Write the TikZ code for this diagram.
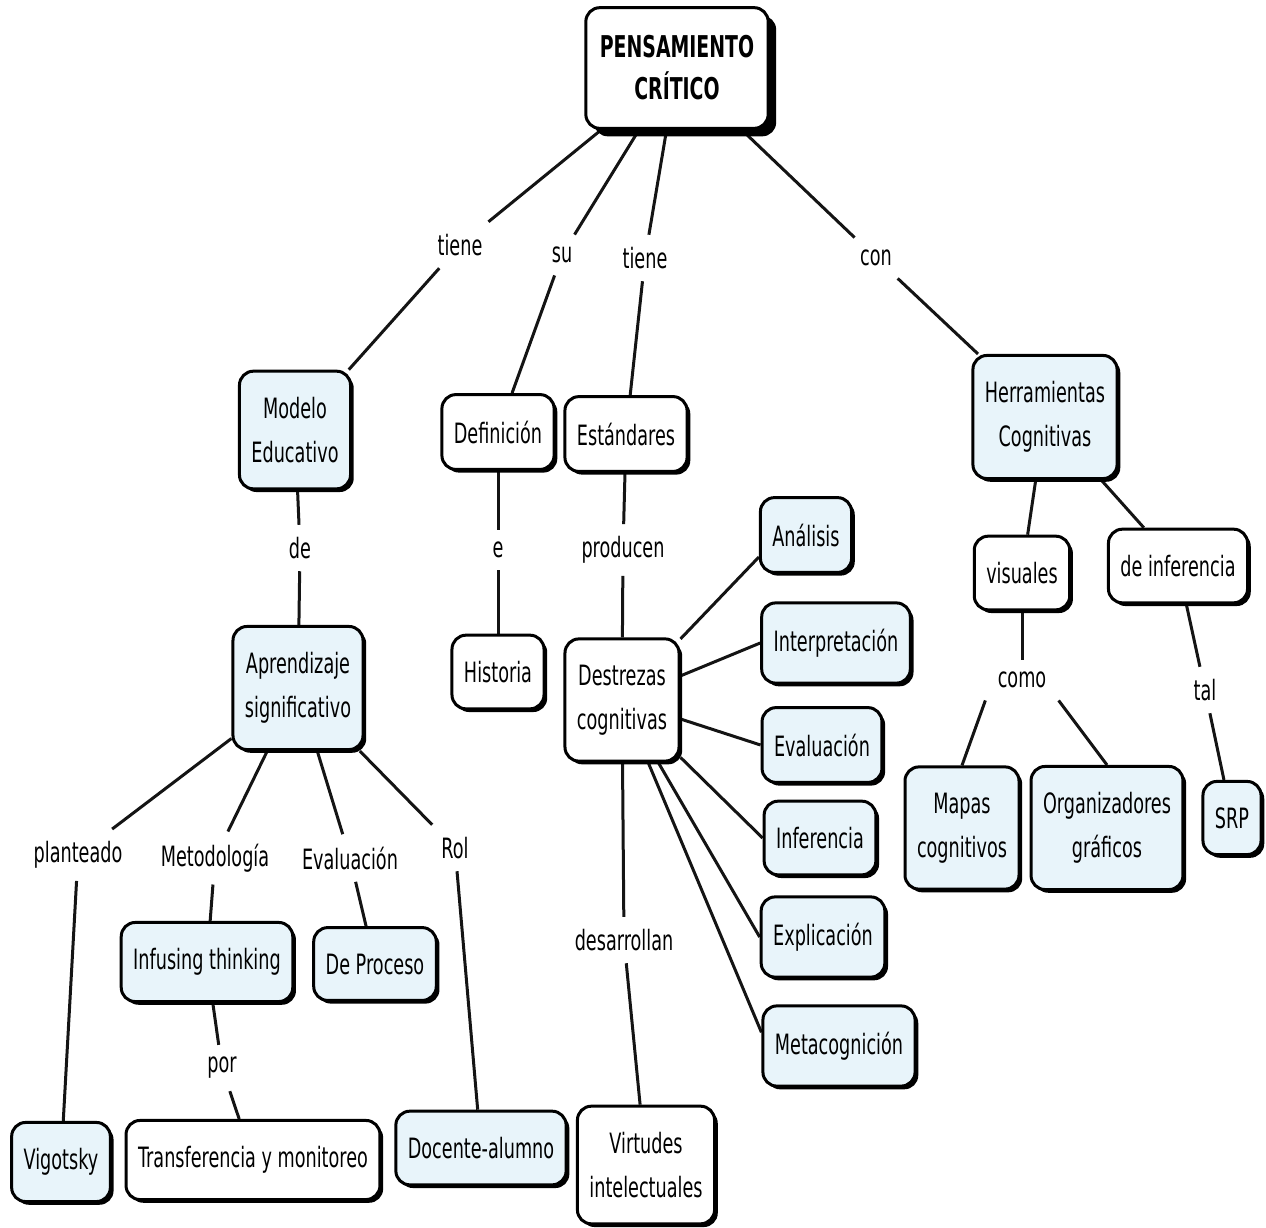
\documentclass[tikz,border=0pt]{standalone}
\usepackage{fontspec}
\setmainfont{DejaVu Sans}[FakeStretch=0.63]
\usetikzlibrary{shadows, backgrounds}
\definecolor{cmapblue}{RGB}{232,244,250}
\definecolor{cmapline}{RGB}{20,20,20}

\begin{document}
\begin{tikzpicture}[x=0.5pt, y=-0.5pt,
  concept/.style={rectangle, draw=black, line width=1.5pt, rounded corners=7pt, fill=white,
    align=center, inner xsep=6pt, inner ysep=13pt, font=\fontsize{14}{22}\selectfont,
    drop shadow={fill=black, opacity=1, shadow xshift=1.6pt, shadow yshift=-1.6pt}},
  bluebox/.style={concept, fill=cmapblue},
  linkword/.style={inner sep=6pt, font=\fontsize{14}{22}\selectfont},
  link/.style={line width=1.5pt, draw=cmapline}]
\useasboundingbox (0,0) rectangle (1266,1228);

% root
\node[concept, font=\bfseries\fontsize{15}{21}\selectfont, inner xsep=7pt, inner ysep=14pt,
  drop shadow={fill=black, opacity=1, shadow xshift=4pt, shadow yshift=-4pt}] (root) at (677,68) {PENSAMIENTO\\CRÍTICO};

% first level
\node[bluebox] (modelo) at (295,430) {Modelo\\Educativo};
\node[concept] (definicion) at (498,432) {Definición};
\node[concept] (estandares) at (626,434) {Estándares};
\node[bluebox] (herram) at (1045,417) {Herramientas\\Cognitivas};

\node[linkword] (tiene1) at (460,245) {tiene};
\node[linkword] (su) at (562,255) {su};
\node[linkword] (tiene2) at (645,258) {tiene};
\node[linkword] (con) at (876,258) {con};

% second level
\node[bluebox] (aprend) at (298,688) {Aprendizaje\\significativo};
\node[concept] (historia) at (498,672) {Historia};
\node[concept] (destrezas) at (622,700) {Destrezas\\cognitivas};
\node[concept] (visuales) at (1022,573) {visuales};
\node[concept] (deinfer) at (1178,566) {de inferencia};

\node[linkword] (de) at (300,548) {de};
\node[linkword] (e) at (498,550) {e};
\node[linkword] (producen) at (623,550) {producen};
\node[linkword] (como) at (1022,680) {como};
\node[linkword] (tal) at (1205,690) {tal};

% destrezas
\node[bluebox] (analisis) at (806,535) {Análisis};
\node[bluebox] (interp) at (836,643) {Interpretación};
\node[bluebox] (evalua) at (822,745) {Evaluación};
\node[bluebox] (infer) at (820,838) {Inferencia};
\node[bluebox] (explica) at (823,937) {Explicación};
\node[bluebox] (metacog) at (839,1046) {Metacognición};

% herramientas
\node[bluebox] (mapas) at (962,828) {Mapas\\cognitivos};
\node[bluebox] (orggraf) at (1107,828) {Organizadores\\gráficos};
\node[bluebox] (srp) at (1232,818) {SRP};

% aprendizaje
\node[linkword] (plant) at (78,855) {planteado};
\node[linkword] (metod) at (215,858) {Metodología};
\node[linkword] (evallk) at (350,858) {Evaluación};
\node[linkword] (rol) at (455,848) {Rol};
\node[bluebox] (infusing) at (207,962) {Infusing thinking};
\node[bluebox] (proceso) at (375,964) {De Proceso};
\node[linkword] (por) at (222,1068) {por};
\node[linkword] (desarr) at (624,940) {desarrollan};

% bottom row
\node[bluebox] (vigotsky) at (61,1162) {Vigotsky};
\node[concept] (transf) at (253,1160) {Transferencia y monitoreo};
\node[bluebox] (docente) at (481,1148) {Docente-alumno};
\node[concept] (virtudes) at (646,1165) {Virtudes\\intelectuales};

% connections
\begin{pgfonlayer}{background}
\draw[link] (root) -- (tiene1);   \draw[link] (tiene1) -- (modelo);
\draw[link] (root) -- (su);       \draw[link] (su) -- (definicion);
\draw[link] (root) -- (tiene2);   \draw[link] (tiene2) -- (estandares);
\draw[link] (root) -- (con);      \draw[link] (con) -- (herram);
\draw[link] (modelo) -- (de);     \draw[link] (de) -- (aprend);
\draw[link] (definicion) -- (e);  \draw[link] (e) -- (historia);
\draw[link] (estandares) -- (producen); \draw[link] (producen) -- (destrezas);
\draw[link] (destrezas) -- (analisis.205);
\draw[link] (destrezas) -- (interp.west);
\draw[link] (destrezas) -- (evalua.west);
\draw[link] (destrezas) -- (infer.west);
\draw[link] (destrezas) -- (explica.west);
\draw[link] (destrezas) -- (metacog.170);
\draw[link] (destrezas) -- (desarr); \draw[link] (desarr) -- (virtudes);
\draw[link] (herram) -- (visuales);
\draw[link] (herram) -- (deinfer);
\draw[link] (visuales) -- (como);
\draw[link] (como.south west) -- (mapas.north);
\draw[link] (como.south east) -- (orggraf.north);
\draw[link] (deinfer) -- (tal);   \draw[link] (tal) -- (srp);
\draw[link] (aprend) -- (plant);  \draw[link] (plant) -- (vigotsky);
\draw[link] (aprend) -- (metod);  \draw[link] (metod) -- (infusing);
\draw[link] (aprend) -- (evallk); \draw[link] (evallk) -- (proceso);
\draw[link] (aprend) -- (rol);    \draw[link] (rol) -- (docente);
\draw[link] (infusing) -- (por);  \draw[link] (por) -- (transf);
\end{pgfonlayer}
\end{tikzpicture}
\end{document}
